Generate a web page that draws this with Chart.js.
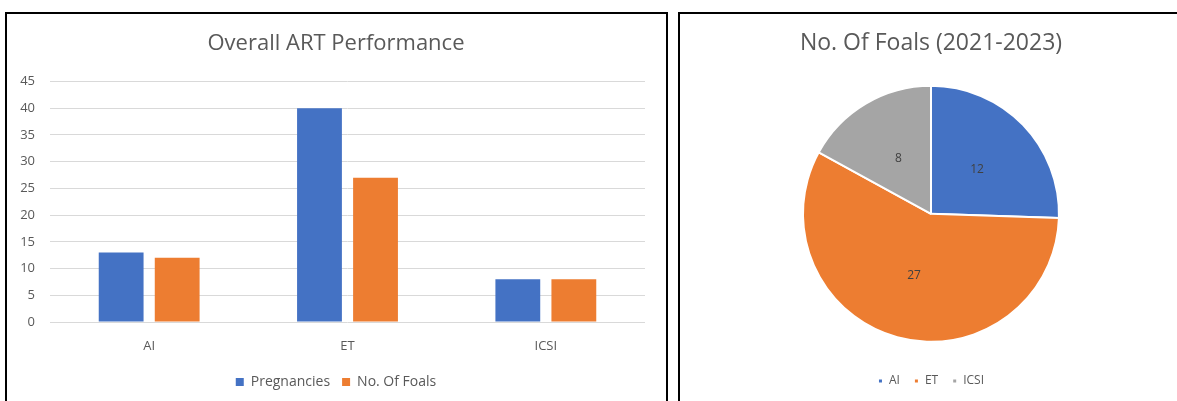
<!DOCTYPE html>
<html>
<head>
<meta charset="utf-8">
<script src="https://cdn.jsdelivr.net/npm/chart.js@4"></script>
<style>
  html, body { margin: 0; padding: 0; background: #fff; overflow: hidden; }
  body { width: 1177px; height: 401px; position: relative; }
  .panel { position: absolute; border: 2px solid #000; border-bottom: none; box-sizing: border-box; }
  #leftPanel { left: 5px; top: 12px; width: 663px; height: 400px; }
  #rightPanel { left: 678px; top: 12px; width: 510px; height: 400px; }
  #barWrap { position: absolute; left: 7px; top: 14px; width: 658px; height: 387px; }
  #pieWrap { position: absolute; left: 681px; top: 14px; width: 496px; height: 400px; }
</style>
</head>
<body>
<div class="panel" id="leftPanel"></div>
<div class="panel" id="rightPanel"></div>
<div id="barWrap"><canvas id="barChart"></canvas></div>
<div id="pieWrap"><canvas id="pieChart"></canvas></div>
<script>
// ART results per technique
var categories = ["AI", "ET", "ICSI"];
var pregnancies = [13, 40, 8];
var foals = [12, 27, 8];
var yTicks = [0, 5, 10, 15, 20, 25, 30, 35, 40, 45];

var BLUE = "#4472C4";
var ORANGE = "#ED7D31";
var GREY = "#A5A5A5";
var TEXT = "#595959";
var FONT = "'Open Sans', sans-serif";

Chart.defaults.font.family = FONT;
Chart.defaults.color = TEXT;
Chart.defaults.animation = false;

new Chart(document.getElementById("barChart"), {
  type: "bar",
  data: {
    labels: categories,
    datasets: [
      { label: "Pregnancies", data: pregnancies, backgroundColor: BLUE },
      { label: "No. Of Foals", data: foals, backgroundColor: ORANGE }
    ]
  },
  options: {
    responsive: true,
    maintainAspectRatio: false,
    categoryPercentage: 0.565,
    barPercentage: 0.8,
    layout: { padding: { left: 0, right: 0, top: 0, bottom: 2 } },
    plugins: {
      title: {
        display: true,
        text: "Overall ART Performance",
        color: TEXT,
        font: { size: 22, weight: "normal" },
        padding: { top: 17, bottom: 24 }
      },
      legend: {
        position: "bottom",
        labels: { boxWidth: 8, boxHeight: 8, padding: 12, font: { size: 14 }, color: TEXT }
      },
      tooltip: { enabled: false }
    },
    scales: {
      x: {
        grid: { display: false },
        border: { display: false },
        ticks: { padding: 8, font: { size: 13 }, color: TEXT },
        afterFit: function (scale) { scale.height = 41; }
      },
      y: {
        min: 0,
        max: 45,
        afterBuildTicks: function (scale) {
          scale.ticks = yTicks.map(function (v) { return { value: v }; });
        },
        grid: { color: "#D9D9D9", drawTicks: false },
        border: { display: false },
        ticks: { padding: 15, font: { size: 13 }, color: TEXT },
        afterFit: function (scale) { scale.width = 43; }
      },
      // empty right-hand axis, keeps a margin after the plot without
      // pulling the title and legend off centre
      gap: {
        position: "right",
        grid: { display: false },
        border: { display: false },
        ticks: { display: false },
        afterFit: function (scale) { scale.width = 20; }
      }
    }
  }
});

// value labels in the middle of each slice
var sliceLabels = {
  id: "sliceLabels",
  afterDatasetsDraw: function (chart) {
    var ctx = chart.ctx;
    var meta = chart.getDatasetMeta(0);
    ctx.save();
    ctx.font = "12px " + FONT;
    ctx.fillStyle = "#404040";
    ctx.textAlign = "center";
    ctx.textBaseline = "middle";
    meta.data.forEach(function (arc, i) {
      var p = arc.tooltipPosition();
      ctx.fillText(String(chart.data.datasets[0].data[i]), p.x, p.y);
    });
    ctx.restore();
  }
};

new Chart(document.getElementById("pieChart"), {
  type: "pie",
  data: {
    labels: categories,
    datasets: [{
      data: foals,
      backgroundColor: [BLUE, ORANGE, GREY],
      borderColor: "#fff",
      borderWidth: 2,
      radius: 128
    }]
  },
  options: {
    responsive: true,
    maintainAspectRatio: false,
    layout: { padding: { left: 4, right: 0, top: 0, bottom: 17 } },
    plugins: {
      title: {
        display: true,
        text: "No. Of Foals (2021-2023)",
        color: TEXT,
        font: { size: 23, weight: "normal" },
        padding: { top: 16, bottom: 9 }
      },
      legend: {
        position: "bottom",
        labels: { boxWidth: 5, boxHeight: 5, padding: 14, font: { size: 12 }, color: TEXT }
      },
      tooltip: { enabled: false }
    }
  },
  plugins: [sliceLabels]
});
</script>
</body>
</html>
